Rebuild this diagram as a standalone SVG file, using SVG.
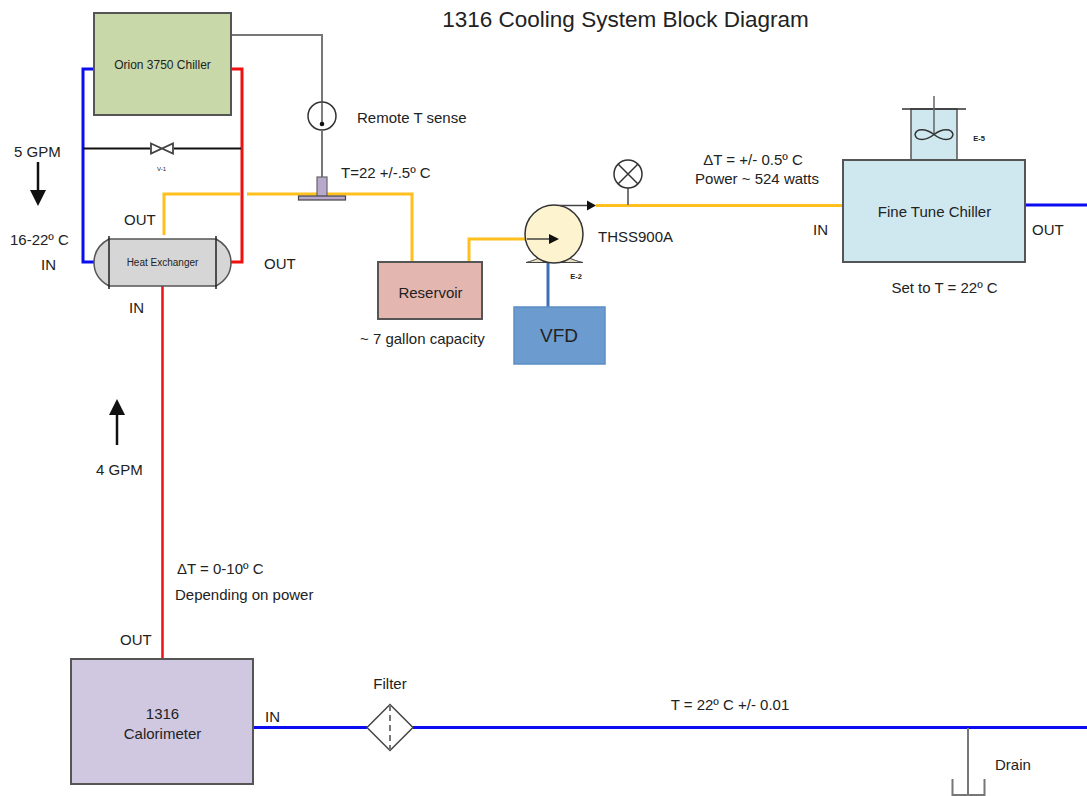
<svg xmlns="http://www.w3.org/2000/svg" width="1087" height="796" viewBox="0 0 1087 796">
<style>
text{font-family:"Liberation Sans",Arial,sans-serif;font-size:15px;fill:#222}
.m{text-anchor:middle}
.box{stroke:#555;stroke-width:2}
.pipe{fill:none;stroke-width:3;stroke-linejoin:miter}
.blue{stroke:#0c0cf0}.red{stroke:#f01010}.yel{stroke:#ffc01e}
.gray{fill:none;stroke:#777;stroke-width:2}
.thin{fill:none;stroke:#333;stroke-width:1.5}
.sm{font-size:7.500px;font-weight:bold}
</style>
<rect width="1087" height="796" fill="#fff"/>
<g id="connectors">
<path class="pipe blue" d="M94 69H83V262H94"/>
<path class="pipe red" d="M231 69H242V262H231"/>
<path d="M83 148.500H150M174 148.500H241" fill="none" stroke="#111" stroke-width="2"/>
<path class="pipe yel" d="M164 235V194H240M247 194H412V262"/>
<path class="pipe yel" d="M469 262V239H526"/>
<path class="pipe yel" d="M596 205.500H843"/>
<path class="gray" d="M231 35H322V102M322 131V177"/>
<path class="pipe red" d="M162.500 285V660" style="stroke-width:2.500px"/>
<path class="pipe blue" d="M1025 205H1087"/>
<path class="pipe blue" d="M253 727.500H367M413 727.500H1087"/>
<path class="gray" d="M968 728V796M952.500 779V795H984.500V779"/>
<path d="M548 262V307" fill="none" stroke="#3c6fb4" stroke-width="3"/>
<path class="gray" d="M628 188V205"/>
<path d="M38 162V192" stroke="#111" stroke-width="2.500" fill="none"/>
<polygon points="30,190 46,190 38,206" fill="#111"/>
<path d="M117 445V413" stroke="#111" stroke-width="2.500" fill="none"/>
<polygon points="109,415 125,415 117,399" fill="#111"/>
</g>
<g id="orion-chiller">
<rect class="box" x="94" y="13" width="137" height="102" fill="#c8d8a8"/>
<text class="m" x="162.500" y="69" style="font-size:12px">Orion 3750 Chiller</text>
</g>
<g id="bypass-valve">
<path d="M151 143.500L173 153.500V143.500L151 153.500Z" fill="#fff" stroke="#444" stroke-width="1.800"/>
<text class="m sm" x="161.500" y="171" style="font-size:6px;font-weight:normal">V-1</text>
</g>
<g id="temp-gauge">
<circle cx="322" cy="116" r="14" fill="#fff" stroke="#333" stroke-width="1.500"/>
<path d="M322 103V124" stroke="#555" stroke-width="1.500"/>
<circle cx="322" cy="124" r="2.300" fill="#111"/>
</g>
<g id="temp-sensor">
<rect x="317" y="177" width="10" height="20" fill="#b8a8cc" stroke="#666" stroke-width="1.200"/>
<rect x="298.500" y="196" width="47" height="4" fill="#b8a8cc" stroke="#444" stroke-width="1.200"/>
</g>
<g id="heat-exchanger">
<path d="M109 239H216C227 245 231 254 231 262.500C231 271 227 280 216 286H109C98 280 94 271 94 262.500C94 254 98 245 109 239Z" fill="#d6d6d6" stroke="#555" stroke-width="1.500"/>
<path d="M109 236V289M216 236V289" stroke="#222" stroke-width="1.500"/>
<text class="m" x="162.500" y="266" style="font-size:10px">Heat Exchanger</text>
</g>
<g id="reservoir">
<rect class="box" x="378" y="262" width="104" height="57" fill="#e4b6b0"/>
<text class="m" x="430.500" y="298">Reservoir</text>
</g>
<g id="pump">
<path d="M526 262.500C536 260 541 257 545 254H563C567 257 572 260 583 262.500Z" fill="#e8dfc0" stroke="#444"/>
<circle cx="554" cy="234" r="29" fill="#fdf3cf" stroke="#333" stroke-width="1.500"/>
<path d="M527 239H550M560 205.500H588" stroke="#444" stroke-width="1.500" fill="none"/>
<polygon points="549,234 559,239 549,244" fill="#111"/>
<polygon points="587,200.500 596,205.500 587,210.500" fill="#111"/>
<text class="m sm" x="576" y="279">E-2</text>
</g>
<g id="vfd">
<rect x="514" y="307" width="91" height="57" fill="#6c9bcf" stroke="#5b8fc6" stroke-width="1.500"/>
<text class="m" x="559" y="342" style="font-size:19px">VFD</text>
</g>
<g id="pressure-indicator">
<circle cx="628" cy="174" r="14" fill="#fff" stroke="#333" stroke-width="1.500"/>
<path d="M618 164L638 184M638 164L618 184" stroke="#333" stroke-width="1.500"/>
</g>
<g id="fine-tune-chiller">
<rect x="911" y="109" width="46" height="51" fill="#cfe8f0" stroke="#555" stroke-width="1.500"/>
<path d="M902 109H966M902 160H966" stroke="#333" stroke-width="1.500"/>
<path d="M934 96V134" stroke="#666" stroke-width="1.500"/>
<path class="thin" d="M934 134.500C926 128 916 128 915 134.500C916 141 926 141 934 134.500C942 128 952 128 953 134.500C952 141 942 141 934 134.500Z"/>
<text class="m sm" x="979" y="141">E-5</text>
<rect class="box" x="843" y="160" width="182" height="102" fill="#cfe8f0"/>
<text class="m" x="934.500" y="217">Fine Tune Chiller</text>
</g>
<g id="calorimeter">
<rect class="box" x="71" y="659" width="182" height="125" fill="#d0c8e0"/>
<text class="m" x="162.500" y="719">1316</text>
<text class="m" x="162.500" y="739">Calorimeter</text>
</g>
<g id="filter">
<path d="M390 704.500L413 727.500L390 750.500L367 727.500Z" fill="#fff" stroke="#444" stroke-width="1.500"/>
<path d="M390 705V750" stroke="#777" stroke-width="2" stroke-dasharray="6 4"/>
</g>
<g id="labels">
<text class="m" x="625.500" y="27" style="font-size:22.500px">1316 Cooling System Block Diagram</text>
<text x="14" y="157">5 GPM</text>
<text x="10" y="245">16-22º C</text>
<text x="41" y="270">IN</text>
<text x="124" y="225">OUT</text>
<text x="264" y="269">OUT</text>
<text x="129" y="313">IN</text>
<text x="357" y="123">Remote T sense</text>
<text x="341" y="178">T=22 +/-.5º C</text>
<text x="360" y="344">~ 7 gallon capacity</text>
<text x="598" y="242">THSS900A</text>
<text class="m" x="753" y="165">ΔT = +/- 0.5º C</text>
<text class="m" x="757" y="184">Power ~ 524 watts</text>
<text x="813" y="235">IN</text>
<text x="1032" y="235">OUT</text>
<text class="m" x="944.500" y="293">Set to T = 22º C</text>
<text x="96" y="475">4 GPM</text>
<text x="177" y="574">ΔT = 0-10º C</text>
<text x="175" y="600">Depending on power</text>
<text x="120" y="645">OUT</text>
<text x="265" y="722">IN</text>
<text class="m" x="390" y="689">Filter</text>
<text class="m" x="730" y="710">T = 22º C +/- 0.01</text>
<text x="995" y="770">Drain</text>
</g>
</svg>
